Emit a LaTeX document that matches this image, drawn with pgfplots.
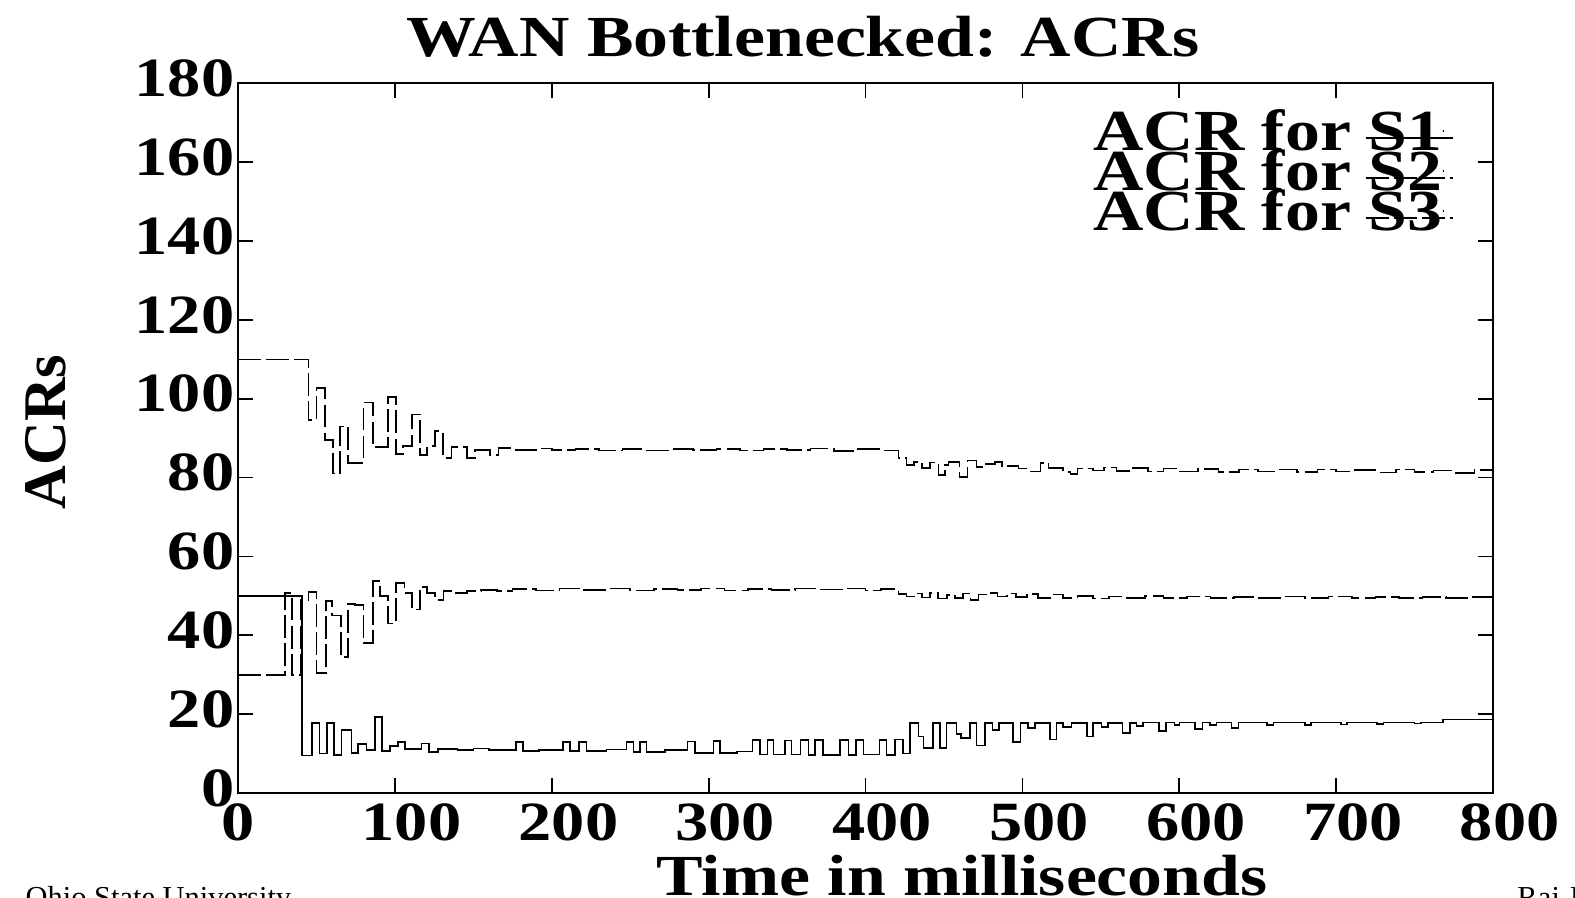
\documentclass[border=0pt]{standalone}
\usepackage{pgfplots}
\pgfplotsset{compat=1.18}
\usepackage{fontspec}
\setmainfont{Liberation Serif}[FakeStretch=1.2]
\newfontfamily\plainserif{Liberation Serif}
\newcommand\bigfnt{\fontsize{16.8}{17}\selectfont\bfseries}
\newcommand\tickfnt{\fontsize{16}{16}\selectfont\bfseries}

\begin{document}
\begin{tikzpicture}
\begin{axis}[
  scale only axis, width=12.75cm, height=7.21cm,
  xmin=0, xmax=800, ymin=0, ymax=180,
  axis line style={line width=0.6pt},
  tick style={line width=0.5pt, black},
  tick align=inside, tick pos=both, ticklabel pos=left, major tick length=0.15cm,
  xtick={0,100,200,300,400,500,600,700,800},
  xticklabels={0,\hphantom{0}100,\hphantom{0}200,\hphantom{0}300,\hphantom{0}400,\hphantom{0}500,\hphantom{0}600,\hphantom{0}700,\hphantom{0}800},
  ytick={0,20,40,60,80,100,120,140,160,180},
  yticklabels={0,20,40,60,80,100,120,140,160,180},
  xticklabel style={font=\tickfnt, anchor=north, inner sep=0pt, yshift=-0.1cm},
  yticklabel style={font=\tickfnt, anchor=east, inner sep=0pt, xshift=-0.03cm, yshift=0.05cm},
  legend plot pos=right,
  legend image code/.code={\draw[#1,overlay] (-0.78cm,-0.07cm) -- (0.1cm,-0.07cm); \path (0,0) rectangle (0.01cm,0);},
  legend style={at={(rel axis cs:0.962,0.962)}, anchor=north east, draw=none, fill=none,
    inner sep=0pt, row sep=0pt, column sep=0pt, font=\bigfnt,
    nodes={inner sep=0pt, text height=11.56pt, text depth=0pt}},
  every axis plot/.append style={const plot, no marks, black, line width=0.45pt},
]
% S1
\addplot[solid] coordinates {(0,50) (40.8,9.5) (47,17.7) (51.8,10) (56.7,17.7) (61,9.6) (66,16) (72.4,10.2) (76.5,12.4) (82,10.9) (87.3,19.3) (91.6,10.6) (96.9,11.9) (102,12.9) (106.5,11.2) (117,12.6) (121.7,10.4) (127.5,11.2) (140,10.9) (150,11.3) (160,10.9) (177.2,12.9) (181.8,10.6) (192,10.9) (207,13.0) (211.6,10.6) (217.5,13.0) (222.2,10.6) (235,11.0) (247.7,13.0) (252,10.4) (256.2,13.0) (260.5,10.4) (272,10.9) (286.4,13.1) (291.3,10.2) (303,13.2) (307.2,10.2) (318,10.5) (328,13.4) (332.7,9.8) (337.4,13.4) (341.2,9.8) (348.5,13.3) (352.8,9.8) (358.6,13.4) (363.5,9.7) (367.8,13.4) (373,9.7) (383.7,13.5) (389,9.7) (394,13.4) (398.6,9.8) (409,13.5) (413.4,9.7) (418.7,13.6) (424,10) (428.3,17.7) (433.6,14.3) (437,11.4) (443,17.7) (447.4,11.4) (451.7,17.7) (458,15) (461,14) (466.6,17.7) (470.8,12) (476,17.8) (481,16) (485,17.8) (494,13) (498.8,17.8) (503.7,16.5) (508,17.8) (517.6,13.6) (521.8,17.8) (526,16.8) (531.3,17.8) (541,14.3) (545,17.8) (550.5,16.8) (554.7,17.8) (563.8,15.2) (568.5,17.8) (572.8,17) (577,17.9) (587,15.7) (591.4,17.9) (597,17.2) (600,17.9) (610,16.2) (614.8,17.9) (619.5,17.3) (623.7,17.9) (633.3,16.5) (637.6,17.9) (656,17.2) (660,17.9) (680,17.3) (684,17.9) (703,17.4) (707,17.9) (726,17.5) (730,17.9) (750,17.6) (754,17.9) (768,18.7) (800,18.7)};
\addlegendentry{ACR for S1}
% S2
\addplot[dash pattern=on 6.6pt off 1.5pt] coordinates {(0,110) (45,94.6) (50,102.7) (55.5,89.5) (60.5,81) (65,93) (70,83.7) (80,99) (86,87.7) (95.6,100.4) (100.7,86) (105,88) (111,96) (116,85.7) (120.5,88) (125.5,91.8) (130.7,85) (136,87.7) (146,85) (151,87) (160.6,85.7) (166,87.5) (175,87.0) (190,87.4) (200,87.0) (215,87.3) (230,86.9) (245,87.2) (260,86.9) (275,87.3) (290,87.0) (305,87.3) (320,86.9) (335,87.2) (350,87.0) (365,87.4) (380,86.8) (395,87.2) (410,86.9) (421,84.9) (426,83.2) (431,84.0) (436,82.5) (441,83.8) (446.4,80.6) (450.6,83.2) (453,84.0) (460,80.2) (465,84.3) (470.8,82.7) (475,83.5) (482.5,84.0) (487,83.0) (497.6,82.3) (505,81.5) (511.4,83.7) (516.7,82.5) (526,81.4) (530.5,80.9) (535,82.3) (545,81.8) (552,82.6) (560,81.7) (570,82.5) (580,81.6) (590,82.3) (600,81.5) (612,82.2) (625,81.4) (638,82.1) (650,81.6) (662,82.0) (675,81.4) (688,82.1) (700,81.5) (712,81.9) (725,81.3) (738,82.0) (750,81.4) (762,81.8) (775,81.2) (788,81.9) (800,81.9)};
\addlegendentry{ACR for S2}
% S3
\addplot[dash pattern=on 6.6pt off 1.5pt] coordinates {(0,30) (30,50.7) (34.4,30) (40,49) (45,51) (50,30.5) (56,48.7) (60,45) (65.6,34.5) (70,48) (74.6,47.7) (80,38) (86,53.8) (90.5,50) (95.6,43) (100.7,53.2) (106,50.7) (111,46.6) (116,52.2) (120.5,50.7) (125.5,49) (131,51.2) (136,50.7) (146,51.2) (155,51.5) (165,51.2) (175,51.8) (190,51.4) (205,51.9) (220,51.5) (235,51.9) (250,51.4) (265,51.8) (280,51.5) (295,51.9) (310,51.4) (325,51.8) (340,51.5) (355,51.9) (370,51.6) (385,51.9) (400,51.4) (410,51.7) (421,50.5) (426,49.8) (431,50.6) (436,49.6) (441,50.8) (446,49.3) (452,50.2) (457,49.4) (462,50.6) (467,49.0) (472,50.3) (478,50.8) (484,49.8) (490,50.6) (496,49.7) (503,50.5) (510,49.5) (518,50.3) (526,49.4) (535,49.9) (545,49.3) (555,49.8) (565,49.5) (578,49.9) (590,49.4) (605,49.8) (620,49.5) (635,49.7) (650,49.4) (665,49.8) (680,49.5) (695,49.8) (710,49.4) (725,49.7) (740,49.5) (755,49.7) (770,49.4) (785,49.7) (800,49.7)};
\addlegendentry{ACR for S3}
\end{axis}
% titles and labels (axis origin at 0,0; 1cm = 98.44px)
\node[anchor=base, font=\bigfnt] at (5.74cm,7.477cm) {WAN Bottlenecked: ACRs};
\node[anchor=base, font=\bigfnt] at (7.355cm,-1.045cm) {Time in milliseconds};
\node[rotate=90, font=\plainserif\fontsize{17.5}{18}\selectfont\bfseries] at (-1.95cm,3.667cm) {ACRs};
\node[anchor=base west, inner sep=0pt, font=\plainserif\fontsize{8.8}{9}\selectfont] at (-2.164cm,-1.16cm) {Ohio State University};
\node[anchor=base west, inner sep=0pt, font=\plainserif\fontsize{8.8}{9}\selectfont] at (12.99cm,-1.16cm) {Raj Jain};
\pgfresetboundingbox
\useasboundingbox (-2.418cm,-1.0565cm) rectangle (13.582cm,8.056cm);
\end{tikzpicture}
\end{document}
